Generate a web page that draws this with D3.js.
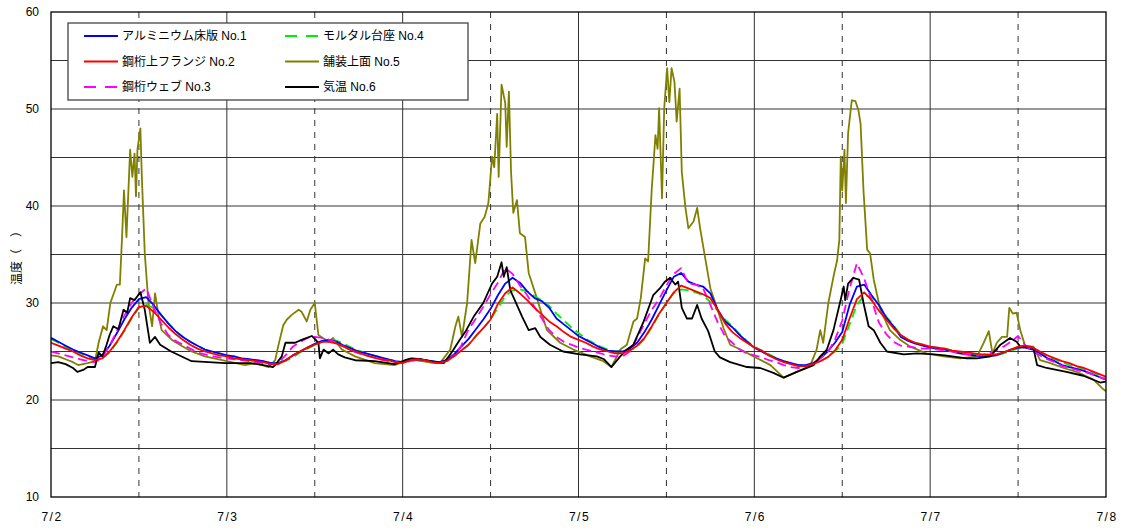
<!DOCTYPE html>
<html><head><meta charset="utf-8">
<script src="https://cdn.jsdelivr.net/npm/d3@7/dist/d3.min.js"></script>
<style>
html,body{margin:0;padding:0;background:#fff;}
svg{display:block;font-family:"Liberation Sans",Arial,"Noto Sans CJK JP",sans-serif;}
</style></head>
<body><svg id="chart" width="1122" height="531"></svg>
<script>
// ---- data ----
const dayLabels = ["7/2","7/3","7/4","7/5","7/6","7/7","7/8"];
const yTicks = [10,20,30,40,50,60];
const seriesNames = ["アルミニウム床版 No.1","鋼桁上フランジ No.2","鋼桁ウェブ No.3","モルタル台座 No.4","舗装上面 No.5","気温 No.6"];
const hours = d3.range(0,145); // hourly, from 7/2 0:00

const no1 = [26.4,26.0,25.6,25.2,24.9,24.6,24.3,24.6,25.6,26.9,28.3,29.5,30.4,30.6,29.8,28.8,27.9,27.1,26.5,26.0,25.6,25.2,25.0,24.8,24.6,
 24.5,24.3,24.2,24.1,24.0,23.8,23.8,24.1,24.6,25.0,25.4,25.8,26.1,26.2,26.0,25.6,25.3,25.0,24.8,24.6,24.4,24.2,24.0,23.9,
 24.1,24.2,24.1,24.0,23.9,24.1,24.7,25.5,26.3,27.3,28.3,29.4,30.8,32.0,32.6,32.1,31.2,30.5,30.2,29.5,28.4,27.8,27.2,26.6,
 26.2,25.8,25.4,25.1,25.0,25.0,25.3,25.9,27.0,28.3,29.8,31.3,32.7,33.1,32.2,31.9,31.7,31.0,29.3,28.1,27.5,26.7,26.0,25.4,
 25.0,24.6,24.3,24.0,23.8,23.6,23.6,23.8,24.3,25.0,25.9,27.0,29.8,31.7,31.9,30.8,29.8,28.5,27.6,26.5,26.1,25.8,25.6,25.4,
 25.3,25.2,25.0,24.8,24.7,24.6,24.5,24.5,24.6,24.9,25.2,25.4,25.4,25.2,24.8,24.3,24.0,23.6,23.4,23.2,23.0,22.7,22.4,22.1];

const no2 = [25.9,25.6,25.3,25.0,24.6,24.3,24.1,24.3,25.0,26.0,27.2,28.5,29.6,29.7,29.1,28.3,27.5,26.8,26.2,25.7,25.3,25.0,24.8,24.6,24.5,
 24.3,24.2,24.1,24.0,23.9,23.7,23.7,24.1,24.6,25.0,25.4,25.7,26.0,26.0,25.8,25.5,25.1,24.9,24.6,24.4,24.2,24.1,23.9,23.8,
 24.1,24.2,24.1,23.9,23.8,24.0,24.5,25.1,25.7,26.6,27.4,28.3,29.9,31.0,31.6,31.0,30.3,29.5,28.8,28.1,27.6,27.0,26.5,26.2,
 25.9,25.5,25.2,25.0,24.8,24.8,25.1,25.6,26.4,27.6,28.9,30.0,31.1,31.8,31.5,31.2,30.9,30.5,29.3,27.9,27.0,26.4,25.9,25.4,
 25.1,24.6,24.2,23.9,23.7,23.5,23.5,23.7,24.0,24.4,25.1,26.2,28.4,30.4,31.1,30.3,29.2,28.3,27.4,26.7,26.2,25.9,25.7,25.5,
 25.4,25.3,25.1,25.0,24.9,24.8,24.7,24.7,24.7,24.9,25.2,25.5,25.6,25.4,25.0,24.6,24.3,24.0,23.8,23.5,23.3,23.0,22.7,22.4];

const no3 = [25.0,24.8,24.6,24.4,24.2,24.0,23.9,24.4,25.6,27.1,28.7,30.0,30.9,31.5,29.6,27.9,26.7,26.1,25.7,25.3,24.9,24.7,24.5,24.4,24.3,
 24.2,24.1,24.0,23.9,23.8,23.7,23.8,24.6,25.5,26.0,26.4,26.5,26.4,26.2,25.9,25.5,25.1,24.8,24.6,24.4,24.2,24.0,23.9,23.8,
 24.0,24.2,24.1,23.9,23.8,24.0,24.6,25.6,27.3,28.4,29.6,30.9,32.1,33.6,33.0,31.8,30.8,29.6,28.4,27.2,26.5,26.0,25.7,25.4,
 25.2,25.0,24.8,24.6,24.5,24.5,25.0,26.4,27.9,29.3,30.4,31.8,33.0,33.6,32.0,31.9,31.5,29.8,28.0,26.6,25.9,25.2,24.8,24.6,
 24.4,24.1,23.9,23.6,23.4,23.3,23.4,23.7,24.3,24.9,26.2,28.2,31.5,34.1,32.5,30.3,28.0,26.8,26.0,25.6,25.5,25.4,25.3,25.3,
 25.2,25.1,25.0,24.8,24.7,24.6,24.6,24.8,25.1,25.5,26.0,26.6,25.6,25.0,24.6,24.2,23.9,23.5,23.3,23.1,22.9,22.7,22.4,22.1];

const no4 = [26.3,25.9,25.5,25.1,24.8,24.5,24.2,24.3,24.9,25.9,27.1,28.4,29.5,29.8,29.5,28.8,27.9,27.1,26.5,26.0,25.6,25.2,25.0,24.8,24.6,
 24.5,24.3,24.2,24.1,24.0,23.8,23.8,24.0,24.4,24.9,25.3,25.7,26.0,26.3,26.1,25.8,25.4,25.1,24.8,24.6,24.4,24.2,24.0,23.9,
 24.0,24.1,24.1,24.0,23.9,24.0,24.5,25.1,25.7,26.6,27.4,28.3,29.5,30.7,31.3,31.4,31.2,30.7,30.3,29.7,28.9,28.2,27.5,26.9,
 26.3,25.9,25.5,25.2,25.0,25.0,25.1,25.5,26.3,27.5,28.8,30.0,31.0,31.4,31.3,31.1,30.8,30.1,29.2,28.3,27.6,26.8,26.1,25.5,
 25.1,24.7,24.3,24.0,23.8,23.6,23.6,23.7,24.0,24.4,25.0,25.8,27.8,29.8,30.8,30.6,29.8,28.6,27.7,26.7,26.2,25.9,25.7,25.5,
 25.4,25.3,25.1,24.9,24.8,24.7,24.6,24.6,24.6,24.8,25.1,25.3,25.4,25.3,24.9,24.5,24.2,23.9,23.6,23.4,23.2,22.9,22.6,22.2];

// No.5 and No.6 are noisy: irregular sample times (hours from 7/2 0:00)
const no5Time = [0,1,2,3,3.7,5,6,6.5,7.1,7.6,8.1,9,9.4,9.7,9.96,10.3,10.8,11.1,11.4,11.6,11.8,12.2,12.4,12.8,13.3,13.8,14.2,14.7,15.1,16.5,17.8,19.2,21,24,26.5,
 27.9,29.7,30.6,31,31.7,32.2,32.9,33.8,34.2,34.9,35.4,36,36.5,36.9,37.9,38.5,39.7,41.5,44.2,46.9,48.3,49.2,50.6,52.4,53.1,54.5,55.2,55.6,56.1,56.8,57.4,57.9,58.6,59.2,59.7,60.2,60.5,60.9,61.1,61.5,62,62.2,62.5,62.8,63.1,63.6,64,64.7,65.2,66.1,66.8,67.7,69.5,71.3,73.6,75.4,76.5,77.7,78.6,79.5,80,80.5,
 81.1,81.5,82,82.2,82.5,82.8,83,83.4,83.7,84.1,84.4,84.7,85.1,85.4,85.8,86.1,86.6,87,87.7,88.2,88.6,89.3,90,90.9,91.8,92.7,94.1,95.9,98.2,100,101.8,103.6,104.5,105,105.4,106.1,106.8,107.3,107.6,107.8,108,108.3,108.5,108.8,109.3,109.8,110.2,110.5,110.9,111.4,111.8,112.3,113.2,114.5,115.9,117.3,119.5,121.8,124.1,126.4,127.3,128,128.5,129.1,129.8,130.5,130.8,131.3,131.8,132.3,133,134.1,135,136.4,138.2,140,142.3,143.5,144];
const no5 = [24.6,24.5,24.2,23.9,23.6,23.8,24.0,25.9,27.6,27.2,30.0,31.9,31.9,36.8,41.6,36.8,45.8,43.0,45.4,41.0,45.8,48.0,43.0,35.1,30.0,27.6,31.0,28.6,27.2,26.2,25.6,25.0,24.5,24.0,23.6,
 23.8,23.4,24.1,25.5,27.7,28.3,28.8,29.3,29.1,28.1,29.3,30.0,26.7,26.5,26.0,26.4,25.2,24.5,23.8,23.6,24.0,24.2,24.0,23.8,23.8,25.2,27.6,28.6,26.5,30.0,36.5,34.1,38.2,38.9,40.3,45.1,44.0,49.5,43.0,52.5,50.6,46.1,51.8,43.4,39.3,40.6,37.2,36.8,33.1,31.0,29.3,27.2,25.9,25.2,24.5,24.0,23.4,25.2,25.7,28.1,28.4,30.5,
 34.6,34.3,41.8,43.9,47.3,45.9,50.1,40.8,50.1,54.2,50.7,54.2,52.8,48.7,52.1,43.5,39.8,37.7,38.4,39.8,37.7,34.6,31.5,29.5,27.4,25.7,25.2,24.5,23.6,22.3,22.9,23.5,25.2,27.2,25.9,30.0,32.7,34.4,36.5,45.1,41.6,45.8,40.3,47.5,50.9,50.8,49.9,48.5,41.6,35.5,35.1,32.4,29.3,27.2,26.2,25.5,24.8,24.5,24.3,24.5,25.9,27.1,24.8,25.9,26.5,26.5,29.5,28.9,29.0,27.2,25.5,25.5,24.1,23.8,23.3,22.9,22.1,21.2,20.9];

const no6Time = [0,1,2,3,3.6,4.4,5,6,6.5,7,7.5,8,8.5,9.2,9.9,10.4,10.8,11.4,12.2,12.5,12.8,13.5,14.2,14.9,16.4,19.2,23.8,27.2,29,30.3,30.6,31.5,32,33.3,34.2,35.6,36,36.5,36.7,37.2,37.9,38.5,39.2,40.1,41.5,44.2,46.9,48.3,49.2,50.6,52.4,53.6,54.5,55.8,56.6,57.7,59,60.2,60.9,61.5,61.8,62.2,62.7,63.3,64.3,65.2,66.1,66.8,68.1,69.9,72.2,74.5,75.5,76.5,77.7,78.6,79.5,80.9,
 82.2,83.1,83.8,84.5,85.2,85.6,86.1,86.8,87.5,88.2,88.8,89.7,90.6,91.3,92.7,95,96.8,98.6,100,101.8,104.1,105,105.9,106.8,107.9,108.2,108.4,108.8,109.5,110.3,110.9,111.6,112.3,113.2,114.1,116.4,118.2,120.5,122,125,126.4,128.2,129.6,130.9,131.8,132.3,133.7,134.1,134.6,135.9,138.6,140.9,143.2,144];
const no6 = [23.8,23.9,23.7,23.3,22.9,23.1,23.4,23.4,24.9,24.5,25.5,26.7,27.6,27.3,29.3,29.0,30.5,30.3,31.1,30.2,29.3,25.9,26.5,25.7,25.0,24.0,23.8,23.8,23.6,23.4,23.6,24.5,25.9,25.9,26.2,26.6,26.3,25.9,24.3,25.2,24.8,25.2,24.7,24.4,24.1,24.0,23.7,24.1,24.3,24.2,23.9,23.8,24.7,26.2,27.1,28.6,30.0,32.0,32.7,34.2,32.7,33.7,31.3,30.3,28.6,27.2,27.4,26.5,25.7,25.0,24.7,24.5,24.2,23.4,24.5,25.2,25.7,28.1,
 30.8,31.5,32.2,32.6,31.9,32.2,29.5,28.4,28.4,29.8,28.4,27.1,25.0,24.4,23.9,23.4,23.3,22.8,22.3,22.9,23.6,24.5,25.2,27.2,30.7,31.7,30.3,32.0,32.6,32.4,30.0,27.6,27.2,25.9,25.0,24.7,24.8,24.7,24.6,24.3,24.3,24.5,25.7,26.4,26.0,25.5,25.5,25.3,23.6,23.3,22.9,22.5,21.8,21.9];

// ---- chart ----
const svg = d3.select("#chart");
const L = 51, R = 1106, T = 12, B = 497;
const x = d3.scaleLinear().domain([0,144]).range([L,R]);
const y = d3.scaleLinear().domain([10,60]).range([B,T]);

svg.append("defs").append("clipPath").attr("id","clip")
  .append("rect").attr("x",L).attr("y",T).attr("width",R-L).attr("height",B-T);

const grid = svg.append("g");
// horizontal grid every 5
grid.selectAll("line.h").data(d3.range(15,60,5)).enter().append("line")
  .attr("x1",L).attr("x2",R).attr("y1",d=>y(d)).attr("y2",d=>y(d))
  .attr("stroke","#333").attr("stroke-width",1);
// vertical day lines
grid.selectAll("line.d").data(d3.range(24,144,24)).enter().append("line")
  .attr("x1",d=>x(d)).attr("x2",d=>x(d)).attr("y1",T).attr("y2",B)
  .attr("stroke","#333").attr("stroke-width",1);
// noon dashed lines
grid.selectAll("line.n").data(d3.range(12,144,24)).enter().append("line")
  .attr("x1",d=>x(d)).attr("x2",d=>x(d)).attr("y1",T).attr("y2",B)
  .attr("stroke","#333").attr("stroke-width",1).attr("stroke-dasharray","6,6");

const series = [
  {t:hours, v:no5, c:"#808000", dash:null},
  {t:hours, v:no4, c:"#00ee00", dash:"9,5"},
  {t:hours, v:no1, c:"#0000ff", dash:null},
  {t:hours, v:no3, c:"#ff00ff", dash:"9,5"},
  {t:hours, v:no6, c:"#000000", dash:null},
  {t:hours, v:no2, c:"#ff0000", dash:null}
];
series[0].t = no5Time; series[4].t = no6Time;

const line = d3.line().x(d=>x(d[0])).y(d=>y(d[1]));
const plot = svg.append("g").attr("clip-path","url(#clip)");
series.forEach(s=>{
  plot.append("path").datum(s.t.map((t,i)=>[t,s.v[i]]))
    .attr("d",line).attr("fill","none").attr("stroke",s.c)
    .attr("stroke-width",1.8).attr("stroke-linejoin","round")
    .attr("stroke-dasharray",s.dash);
});

// frame
svg.append("rect").attr("x",L).attr("y",T).attr("width",R-L).attr("height",B-T)
  .attr("fill","none").attr("stroke","#000").attr("stroke-width",1.3);

// y tick labels
svg.append("g").selectAll("text").data(yTicks).enter().append("text")
  .attr("x",L-12).attr("y",d=>y(d)).attr("dy","0.35em")
  .attr("text-anchor","end").attr("font-size",12).attr("fill","#000").text(d=>d);
// x tick labels
svg.append("g").selectAll("text").data(dayLabels).enter().append("text")
  .attr("x",(d,i)=>x(i*24)+1).attr("y",521)
  .attr("text-anchor","middle").attr("font-size",12).attr("letter-spacing","1.5px")
  .attr("fill","#000").text(d=>d);
// y title
svg.append("text").attr("transform","translate(21,255) rotate(-90)")
  .attr("text-anchor","middle").attr("font-size",12).attr("fill","#000")
  .text("温度（　）");

// legend
const lg = svg.append("g");
lg.append("rect").attr("x",68).attr("y",23).attr("width",400).attr("height",77)
  .attr("fill","#fff").attr("stroke","#444").attr("stroke-width",1.3);
const legendItems = [
  {name:seriesNames[0], c:"#0000ff", dash:null, col:0, row:0},
  {name:seriesNames[1], c:"#ff0000", dash:null, col:0, row:1},
  {name:seriesNames[2], c:"#ff00ff", dash:"12,9", col:0, row:2},
  {name:seriesNames[3], c:"#00ee00", dash:"12,9", col:1, row:0},
  {name:seriesNames[4], c:"#808000", dash:null, col:1, row:1},
  {name:seriesNames[5], c:"#000000", dash:null, col:1, row:2}
];
legendItems.forEach(it=>{
  const x0 = it.col ? 285 : 84, yy = 36 + it.row*25.5;
  lg.append("line").attr("x1",x0).attr("x2",x0+34).attr("y1",yy).attr("y2",yy)
    .attr("stroke",it.c).attr("stroke-width",1.8).attr("stroke-dasharray",it.dash);
  lg.append("text").attr("x",x0+38).attr("y",yy).attr("dy","0.36em")
    .attr("font-size",12).attr("fill","#000").text(it.name);
});
</script></body></html>
